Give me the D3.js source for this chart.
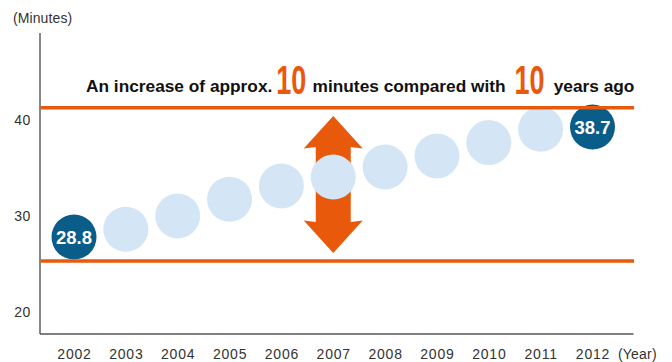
<!DOCTYPE html>
<html>
<head>
<meta charset="utf-8">
<script src="https://cdn.jsdelivr.net/npm/d3@7/dist/d3.min.js"></script>
<style>
  html, body { margin: 0; padding: 0; background: #fff; }
  svg { display: block; font-family: "Liberation Sans", Arial, Helvetica, sans-serif; }
</style>
</head>
<body>
<svg id="chart" width="672" height="362"></svg>
<script>
// Average daily minutes, by year
const years = [2002, 2003, 2004, 2005, 2006, 2007, 2008, 2009, 2010, 2011, 2012];
const minutes = [28.8, 29.5, 30.7, 32.2, 33.4, 34.2, 35.1, 36.1, 37.3, 38.5, 38.7];
const yTicks = [20, 30, 40];
const highlightYears = [2002, 2012];
const headline = ["An increase of approx.", "10", "minutes compared with", "10", "years ago"];
const yUnit = "(Minutes)";
const xUnit = "(Year)";

const ORANGE = "#E8590C";
const DARK = "#0A5C89";
const LIGHT = "#D4E5F6";
const AXIS = "#555";
const TEXT = "#333";

const svg = d3.select("#chart");
const r = 22.5;

const data = years.map((yr, i) => ({ year: yr, value: minutes[i], hi: highlightYears.includes(yr) }));

// Horizontal placement of each year
const x = d3.scalePoint().domain(years).range([74, 592.5]);
// Bubble heights across the plot frame (baseline up to the top band)
const yB = d3.scaleLinear().domain([20, 40]).range([334.8, 112.6]);
// Left guide labels
const yGuide = d3.scaleLinear().domain([20, 40]).range([312.3, 120]);

const plotLeft = 40, plotRight = 633.5, plotTop = 33, plotBottom = 334;

// Axis frame
svg.append("line")
  .attr("x1", plotLeft).attr("x2", plotLeft)
  .attr("y1", plotTop).attr("y2", plotBottom)
  .attr("stroke", AXIS).attr("stroke-width", 1.4);
svg.append("line")
  .attr("x1", plotLeft).attr("x2", plotRight)
  .attr("y1", plotBottom).attr("y2", plotBottom)
  .attr("stroke", AXIS).attr("stroke-width", 1.4);

// Y tick labels
const yAxisG = svg.append("g")
  .attr("transform", `translate(${plotLeft},0)`)
  .call(d3.axisLeft(yGuide).tickValues(yTicks).tickSize(0).tickPadding(9));
yAxisG.select(".domain").remove();
yAxisG.selectAll("text")
  .attr("font-family", null)
  .style("font-size", "14px")
  .style("letter-spacing", "0.6px")
  .attr("fill", TEXT);

// X tick labels
const xAxisG = svg.append("g")
  .attr("transform", `translate(0,${plotBottom})`)
  .call(d3.axisBottom(x).tickSize(0).tickPadding(15).tickFormat(d3.format("d")));
xAxisG.select(".domain").remove();
xAxisG.selectAll("text")
  .attr("font-family", null)
  .style("font-size", "14px")
  .style("letter-spacing", "0.8px")
  .attr("fill", TEXT);

// Unit labels
svg.append("text")
  .attr("x", 13).attr("y", 22.5)
  .style("font-size", "14px")
  .style("letter-spacing", "0.1px")
  .attr("fill", TEXT)
  .text(yUnit);
svg.append("text")
  .attr("x", 618).attr("y", 358.9)
  .style("font-size", "14px")
  .style("letter-spacing", "0.2px")
  .attr("fill", TEXT)
  .text(xUnit);

// Reference bands at the first and last values
const first = data[0], last = data[data.length - 1];
const topLineY = yB(last.value) - r + 3.2;
const bottomLineY = yB(first.value) + r + 1.5;

// Double-headed arrow spanning the two bands, behind the bubbles
const ax = x(2007);
const tipTop = topLineY + 8.3, tipBottom = bottomLineY - 8;
const headH = 32.5, headW = 29.5, shaftW = 17.5;
const arrowPath = d3.path();
arrowPath.moveTo(ax, tipTop);
arrowPath.lineTo(ax + headW, tipTop + headH);
arrowPath.lineTo(ax + shaftW, tipTop + headH - 1.5);
arrowPath.lineTo(ax + shaftW, tipBottom - headH + 1.5);
arrowPath.lineTo(ax + headW, tipBottom - headH);
arrowPath.lineTo(ax, tipBottom);
arrowPath.lineTo(ax - headW, tipBottom - headH);
arrowPath.lineTo(ax - shaftW, tipBottom - headH + 1.5);
arrowPath.lineTo(ax - shaftW, tipTop + headH - 1.5);
arrowPath.lineTo(ax - headW, tipTop + headH);
arrowPath.closePath();
svg.append("path").attr("d", arrowPath.toString()).attr("fill", ORANGE);

// Bubbles
svg.append("g").selectAll("circle")
  .data(data)
  .join("circle")
  .attr("cx", d => x(d.year))
  .attr("cy", d => yB(d.value))
  .attr("r", r)
  .attr("fill", d => d.hi ? DARK : LIGHT);

// Band lines
[topLineY, bottomLineY].forEach(yy => {
  svg.append("line")
    .attr("x1", plotLeft + 0.7).attr("x2", plotRight + 0.5)
    .attr("y1", yy).attr("y2", yy)
    .attr("stroke", ORANGE).attr("stroke-width", 3.6);
});

// Value labels on highlighted bubbles
svg.append("g").selectAll("text")
  .data(data.filter(d => d.hi))
  .join("text")
  .attr("x", d => x(d.year))
  .attr("y", d => yB(d.value))
  .attr("dy", "0.36em")
  .attr("text-anchor", "middle")
  .style("font-size", "18.5px")
  .style("font-weight", "bold")
  .attr("fill", "#fff")
  .text(d => d3.format(".1f")(d.value));

// Headline
const hl = svg.append("text").attr("fill", "#111").style("font-weight", "bold");
const segX = [86, 276.2, 312.6, 514.6, 553.7];
headline.forEach((s, i) => {
  const big = i === 1 || i === 3;
  const t = hl.append("tspan")
    .attr("x", segX[i])
    .attr("y", big ? 94 : 92)
    .style("font-size", big ? "40px" : "17.3px")
    .attr("fill", big ? ORANGE : "#111")
    .text(s);
  if (big) t.attr("textLength", 30).attr("lengthAdjust", "spacingAndGlyphs");
});
</script>
</body>
</html>
